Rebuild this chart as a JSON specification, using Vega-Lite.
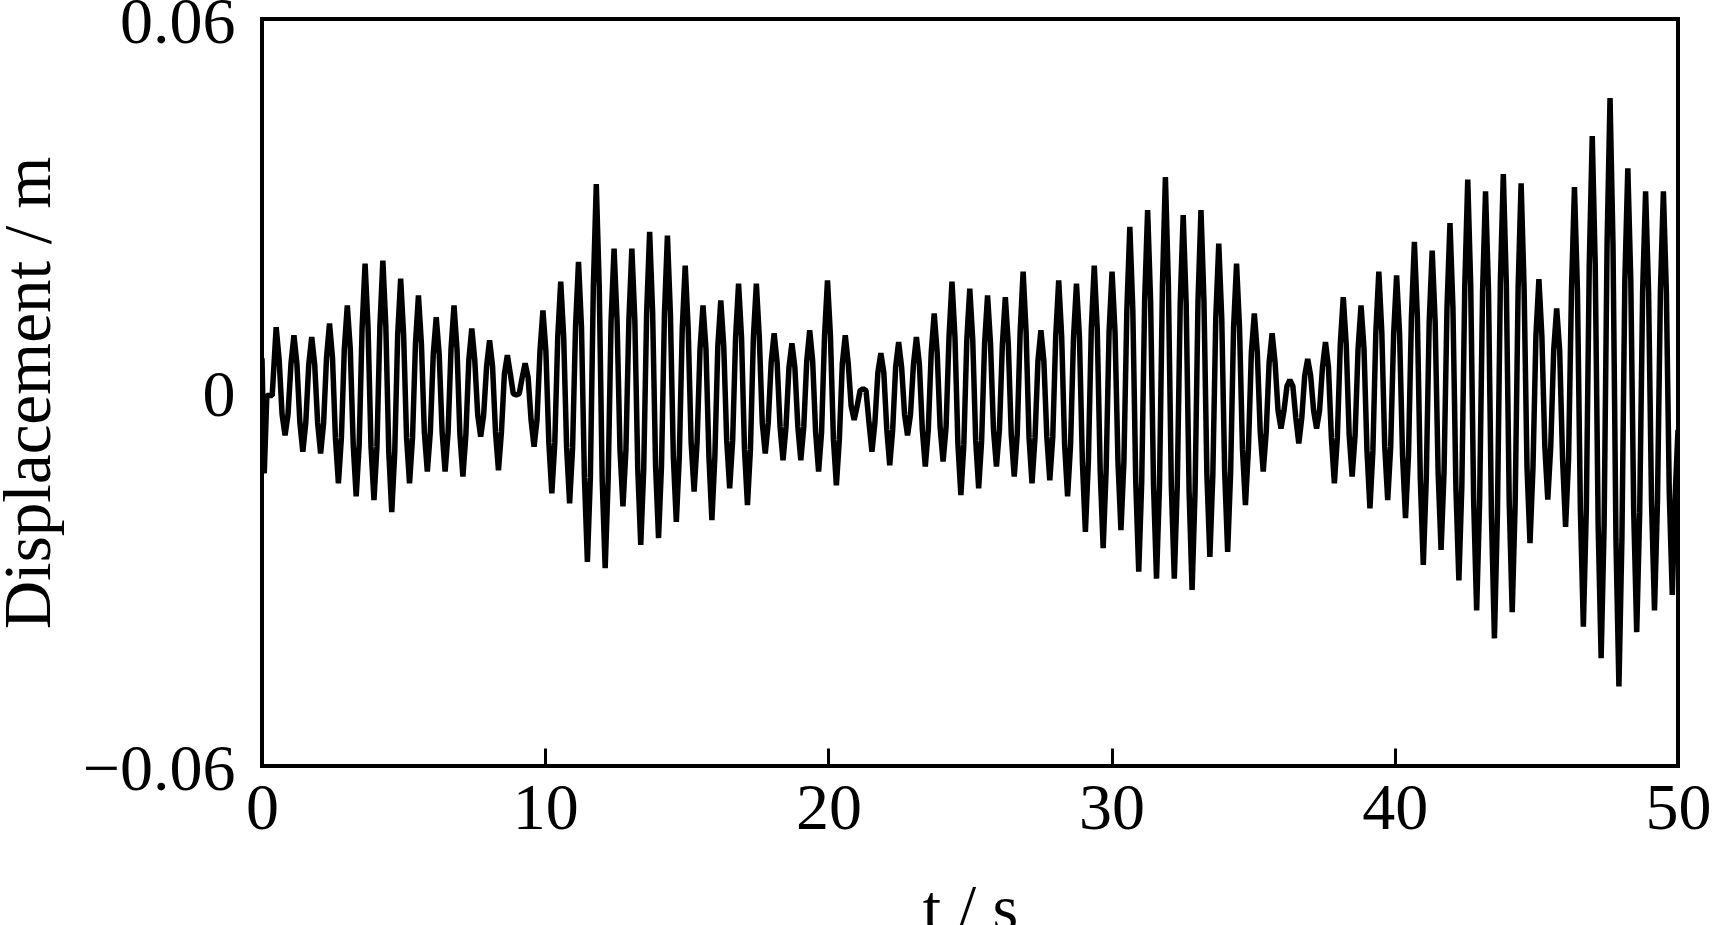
{
"$schema": "https://vega.github.io/schema/vega-lite/v6.json",
"width": 1416, "height": 747,
"autosize": {"type": "none"},
"padding": {"left": 262, "top": 19, "right": 37, "bottom": 159},
"background": "white",
"config": {"view": {"stroke": "black", "strokeWidth": 4}, "font": "Liberation Serif"},
"data": {"values": [
{"t":0,"y":0.0055},{"t":0.08,"y":-0.013},{"t":0.17,"y":-0.0005},{"t":0.36,"y":-0.0005},
{"t":0.5,"y":0.0105},{"t":0.605,"y":0.0053},{"t":0.709,"y":-0.0035},{"t":0.814,"y":-0.0069},{"t":0.919,"y":-0.0035},{"t":1.023,"y":0.0046},
{"t":1.128,"y":0.0092},{"t":1.233,"y":0.0046},{"t":1.337,"y":-0.0048},{"t":1.442,"y":-0.0095},{"t":1.547,"y":-0.0048},{"t":1.651,"y":0.0045},
{"t":1.756,"y":0.0089},{"t":1.861,"y":0.0045},{"t":1.965,"y":-0.0049},{"t":2.07,"y":-0.0098},{"t":2.175,"y":-0.0049},{"t":2.279,"y":0.0056},
{"t":2.384,"y":0.0111},{"t":2.489,"y":0.0056},{"t":2.593,"y":-0.0073},{"t":2.698,"y":-0.0146},{"t":2.803,"y":-0.0073},{"t":2.907,"y":0.007},
{"t":3.012,"y":0.014},{"t":3.117,"y":0.007},{"t":3.221,"y":-0.0084},{"t":3.326,"y":-0.0167},{"t":3.431,"y":-0.0084},{"t":3.535,"y":0.0104},
{"t":3.64,"y":0.0207},{"t":3.745,"y":0.0104},{"t":3.849,"y":-0.0087},{"t":3.954,"y":-0.0173},{"t":4.059,"y":-0.0087},{"t":4.163,"y":0.0106},
{"t":4.268,"y":0.0212},{"t":4.373,"y":0.0106},{"t":4.477,"y":-0.0096},{"t":4.582,"y":-0.0192},{"t":4.687,"y":-0.0096},{"t":4.791,"y":0.0092},
{"t":4.896,"y":0.0183},{"t":5.001,"y":0.0092},{"t":5.105,"y":-0.0073},{"t":5.21,"y":-0.0146},{"t":5.315,"y":-0.0073},{"t":5.419,"y":0.0078},
{"t":5.524,"y":0.0156},{"t":5.629,"y":0.0078},{"t":5.733,"y":-0.0064},{"t":5.838,"y":-0.0127},{"t":5.943,"y":-0.0064},{"t":6.047,"y":0.0061},
{"t":6.152,"y":0.0121},{"t":6.257,"y":0.0061},{"t":6.361,"y":-0.0064},{"t":6.466,"y":-0.0127},{"t":6.571,"y":-0.0064},{"t":6.675,"y":0.007},
{"t":6.78,"y":0.014},{"t":6.885,"y":0.007},{"t":6.989,"y":-0.0068},{"t":7.094,"y":-0.0135},{"t":7.199,"y":-0.0068},{"t":7.303,"y":0.0052},
{"t":7.408,"y":0.0103},{"t":7.513,"y":0.0052},{"t":7.617,"y":-0.0036},{"t":7.722,"y":-0.0071},{"t":7.827,"y":-0.0036},{"t":7.931,"y":0.0042},
{"t":8.036,"y":0.0084},{"t":8.141,"y":0.0042},{"t":8.245,"y":-0.0063},{"t":8.35,"y":-0.0125},{"t":8.455,"y":-0.0063},{"t":8.559,"y":0.003},
{"t":8.664,"y":0.006},{"t":8.769,"y":0.003},{"t":8.873,"y":-0.0002},{"t":8.978,"y":-0.0004},{"t":9.083,"y":-0.0002},{"t":9.187,"y":0.0024},
{"t":9.292,"y":0.0047},{"t":9.397,"y":0.0024},{"t":9.501,"y":-0.0044},{"t":9.606,"y":-0.0087},{"t":9.711,"y":-0.0044},{"t":9.815,"y":0.0066},
{"t":9.92,"y":0.0132},{"t":10.025,"y":0.0066},{"t":10.129,"y":-0.0081},{"t":10.234,"y":-0.0162},{"t":10.339,"y":-0.0081},{"t":10.443,"y":0.0089},
{"t":10.548,"y":0.0178},{"t":10.653,"y":0.0089},{"t":10.757,"y":-0.0089},{"t":10.862,"y":-0.0178},{"t":10.967,"y":-0.0089},{"t":11.071,"y":0.0105},
{"t":11.176,"y":0.021},{"t":11.281,"y":0.0105},{"t":11.385,"y":-0.0136},{"t":11.49,"y":-0.0272},{"t":11.595,"y":-0.0136},{"t":11.699,"y":0.0168},
{"t":11.804,"y":0.0335},{"t":11.909,"y":0.0168},{"t":12.013,"y":-0.0141},{"t":12.118,"y":-0.0282},{"t":12.223,"y":-0.0141},{"t":12.327,"y":0.0116},
{"t":12.432,"y":0.0231},{"t":12.537,"y":0.0116},{"t":12.641,"y":-0.0092},{"t":12.746,"y":-0.0183},{"t":12.851,"y":-0.0092},{"t":12.955,"y":0.0116},
{"t":13.06,"y":0.0231},{"t":13.165,"y":0.0116},{"t":13.269,"y":-0.0123},{"t":13.374,"y":-0.0245},{"t":13.479,"y":-0.0123},{"t":13.583,"y":0.0129},
{"t":13.688,"y":0.0258},{"t":13.793,"y":0.0129},{"t":13.897,"y":-0.0117},{"t":14.002,"y":-0.0234},{"t":14.107,"y":-0.0117},{"t":14.211,"y":0.0126},
{"t":14.316,"y":0.0252},{"t":14.421,"y":0.0126},{"t":14.525,"y":-0.0104},{"t":14.63,"y":-0.0208},{"t":14.735,"y":-0.0104},{"t":14.839,"y":0.0102},
{"t":14.944,"y":0.0204},{"t":15.049,"y":0.0102},{"t":15.153,"y":-0.008},{"t":15.258,"y":-0.0159},{"t":15.363,"y":-0.008},{"t":15.467,"y":0.007},
{"t":15.572,"y":0.014},{"t":15.677,"y":0.007},{"t":15.781,"y":-0.0103},{"t":15.886,"y":-0.0205},{"t":15.991,"y":-0.0103},{"t":16.095,"y":0.0074},
{"t":16.2,"y":0.0148},{"t":16.305,"y":0.0074},{"t":16.409,"y":-0.0077},{"t":16.514,"y":-0.0154},{"t":16.619,"y":-0.0077},{"t":16.723,"y":0.0088},
{"t":16.828,"y":0.0175},{"t":16.933,"y":0.0088},{"t":17.037,"y":-0.0091},{"t":17.142,"y":-0.0181},{"t":17.247,"y":-0.0091},{"t":17.351,"y":0.0088},
{"t":17.456,"y":0.0175},{"t":17.561,"y":0.0088},{"t":17.665,"y":-0.0049},{"t":17.77,"y":-0.0098},{"t":17.875,"y":-0.0049},{"t":17.979,"y":0.0048},
{"t":18.084,"y":0.0095},{"t":18.189,"y":0.0048},{"t":18.293,"y":-0.0055},{"t":18.398,"y":-0.0109},{"t":18.503,"y":-0.0055},{"t":18.607,"y":0.004},
{"t":18.712,"y":0.0079},{"t":18.817,"y":0.004},{"t":18.921,"y":-0.0055},{"t":19.026,"y":-0.0109},{"t":19.131,"y":-0.0055},{"t":19.235,"y":0.005},
{"t":19.34,"y":0.01},{"t":19.445,"y":0.005},{"t":19.549,"y":-0.0064},{"t":19.654,"y":-0.0127},{"t":19.759,"y":-0.0064},{"t":19.863,"y":0.009},
{"t":19.968,"y":0.018},{"t":20.073,"y":0.009},{"t":20.177,"y":-0.0075},{"t":20.282,"y":-0.0149},{"t":20.387,"y":-0.0075},{"t":20.491,"y":0.0046},
{"t":20.596,"y":0.0092},{"t":20.701,"y":0.0046},{"t":20.805,"y":-0.0022},{"t":20.91,"y":-0.0044},{"t":21.015,"y":-0.0022},{"t":21.119,"y":0.0003},
{"t":21.224,"y":0.0006},{"t":21.329,"y":0.0003},{"t":21.433,"y":-0.0048},{"t":21.538,"y":-0.0095},{"t":21.643,"y":-0.0048},{"t":21.747,"y":0.0032},
{"t":21.852,"y":0.0063},{"t":21.957,"y":0.0032},{"t":22.061,"y":-0.0059},{"t":22.166,"y":-0.0117},{"t":22.271,"y":-0.0059},{"t":22.375,"y":0.0041},
{"t":22.48,"y":0.0081},{"t":22.585,"y":0.0041},{"t":22.689,"y":-0.0035},{"t":22.794,"y":-0.0069},{"t":22.899,"y":-0.0035},{"t":23.003,"y":0.0045},
{"t":23.108,"y":0.0089},{"t":23.213,"y":0.0045},{"t":23.317,"y":-0.006},{"t":23.422,"y":-0.0119},{"t":23.527,"y":-0.006},{"t":23.631,"y":0.0064},
{"t":23.736,"y":0.0127},{"t":23.841,"y":0.0064},{"t":23.945,"y":-0.0056},{"t":24.05,"y":-0.0111},{"t":24.155,"y":-0.0056},{"t":24.259,"y":0.0089},
{"t":24.364,"y":0.0178},{"t":24.469,"y":0.0089},{"t":24.573,"y":-0.0083},{"t":24.678,"y":-0.0165},{"t":24.783,"y":-0.0083},{"t":24.887,"y":0.0084},
{"t":24.992,"y":0.0167},{"t":25.097,"y":0.0084},{"t":25.201,"y":-0.0077},{"t":25.306,"y":-0.0154},{"t":25.411,"y":-0.0077},{"t":25.515,"y":0.0078},
{"t":25.62,"y":0.0156},{"t":25.725,"y":0.0078},{"t":25.829,"y":-0.006},{"t":25.934,"y":-0.0119},{"t":26.039,"y":-0.006},{"t":26.143,"y":0.0077},
{"t":26.248,"y":0.0153},{"t":26.353,"y":0.0077},{"t":26.457,"y":-0.0068},{"t":26.562,"y":-0.0135},{"t":26.667,"y":-0.0068},{"t":26.771,"y":0.0097},
{"t":26.876,"y":0.0194},{"t":26.981,"y":0.0097},{"t":27.085,"y":-0.0073},{"t":27.19,"y":-0.0146},{"t":27.295,"y":-0.0073},{"t":27.399,"y":0.005},
{"t":27.504,"y":0.01},{"t":27.609,"y":0.005},{"t":27.713,"y":-0.0071},{"t":27.818,"y":-0.0141},{"t":27.923,"y":-0.0071},{"t":28.027,"y":0.009},
{"t":28.132,"y":0.018},{"t":28.237,"y":0.009},{"t":28.341,"y":-0.0084},{"t":28.446,"y":-0.0167},{"t":28.551,"y":-0.0084},{"t":28.655,"y":0.0088},
{"t":28.76,"y":0.0175},{"t":28.865,"y":0.0088},{"t":28.969,"y":-0.0112},{"t":29.074,"y":-0.0224},{"t":29.179,"y":-0.0112},{"t":29.283,"y":0.0102},
{"t":29.388,"y":0.0204},{"t":29.493,"y":0.0102},{"t":29.597,"y":-0.0125},{"t":29.702,"y":-0.025},{"t":29.807,"y":-0.0125},{"t":29.911,"y":0.0097},
{"t":30.016,"y":0.0194},{"t":30.121,"y":0.0097},{"t":30.225,"y":-0.0111},{"t":30.33,"y":-0.0221},{"t":30.435,"y":-0.0111},{"t":30.539,"y":0.0133},
{"t":30.644,"y":0.0266},{"t":30.749,"y":0.0133},{"t":30.853,"y":-0.0144},{"t":30.958,"y":-0.0288},{"t":31.063,"y":-0.0144},{"t":31.167,"y":0.0147},
{"t":31.272,"y":0.0293},{"t":31.377,"y":0.0147},{"t":31.481,"y":-0.015},{"t":31.586,"y":-0.0299},{"t":31.691,"y":-0.015},{"t":31.795,"y":0.0173},
{"t":31.9,"y":0.0346},{"t":32.005,"y":0.0173},{"t":32.109,"y":-0.015},{"t":32.214,"y":-0.0299},{"t":32.319,"y":-0.015},{"t":32.423,"y":0.0143},
{"t":32.528,"y":0.0285},{"t":32.633,"y":0.0143},{"t":32.737,"y":-0.0159},{"t":32.842,"y":-0.0317},{"t":32.947,"y":-0.0159},{"t":33.051,"y":0.0147},
{"t":33.156,"y":0.0293},{"t":33.261,"y":0.0147},{"t":33.365,"y":-0.0132},{"t":33.47,"y":-0.0264},{"t":33.575,"y":-0.0132},{"t":33.679,"y":0.012},
{"t":33.784,"y":0.0239},{"t":33.889,"y":0.012},{"t":33.993,"y":-0.0128},{"t":34.098,"y":-0.0256},{"t":34.203,"y":-0.0128},{"t":34.307,"y":0.0104},
{"t":34.412,"y":0.0207},{"t":34.517,"y":0.0104},{"t":34.621,"y":-0.0091},{"t":34.726,"y":-0.0181},{"t":34.831,"y":-0.0091},{"t":34.935,"y":0.0064},
{"t":35.04,"y":0.0127},{"t":35.145,"y":0.0064},{"t":35.249,"y":-0.0064},{"t":35.354,"y":-0.0127},{"t":35.459,"y":-0.0064},{"t":35.563,"y":0.0048},
{"t":35.668,"y":0.0095},{"t":35.773,"y":0.0048},{"t":35.877,"y":-0.0029},{"t":35.982,"y":-0.0058},{"t":36.087,"y":-0.0029},{"t":36.191,"y":0.001},
{"t":36.296,"y":0.002},{"t":36.401,"y":0.001},{"t":36.505,"y":-0.0041},{"t":36.61,"y":-0.0082},{"t":36.715,"y":-0.0041},{"t":36.819,"y":0.0027},
{"t":36.924,"y":0.0054},{"t":37.029,"y":0.0027},{"t":37.133,"y":-0.0029},{"t":37.238,"y":-0.0058},{"t":37.343,"y":-0.0029},{"t":37.447,"y":0.0041},
{"t":37.552,"y":0.0081},{"t":37.657,"y":0.0041},{"t":37.761,"y":-0.0073},{"t":37.866,"y":-0.0146},{"t":37.971,"y":-0.0073},{"t":38.075,"y":0.0077},
{"t":38.18,"y":0.0153},{"t":38.285,"y":0.0077},{"t":38.389,"y":-0.0068},{"t":38.494,"y":-0.0135},{"t":38.599,"y":-0.0068},{"t":38.703,"y":0.007},
{"t":38.808,"y":0.014},{"t":38.913,"y":0.007},{"t":39.017,"y":-0.0093},{"t":39.122,"y":-0.0186},{"t":39.227,"y":-0.0093},{"t":39.331,"y":0.0097},
{"t":39.436,"y":0.0194},{"t":39.541,"y":0.0097},{"t":39.645,"y":-0.0087},{"t":39.75,"y":-0.0173},{"t":39.855,"y":-0.0087},{"t":39.959,"y":0.0094},
{"t":40.064,"y":0.0188},{"t":40.169,"y":0.0094},{"t":40.273,"y":-0.0101},{"t":40.378,"y":-0.0202},{"t":40.483,"y":-0.0101},{"t":40.587,"y":0.0121},
{"t":40.692,"y":0.0242},{"t":40.797,"y":0.0121},{"t":40.901,"y":-0.0139},{"t":41.006,"y":-0.0277},{"t":41.111,"y":-0.0139},{"t":41.215,"y":0.0114},
{"t":41.32,"y":0.0228},{"t":41.425,"y":0.0114},{"t":41.529,"y":-0.0127},{"t":41.634,"y":-0.0253},{"t":41.739,"y":-0.0127},{"t":41.843,"y":0.0136},
{"t":41.948,"y":0.0272},{"t":42.053,"y":0.0136},{"t":42.157,"y":-0.0151},{"t":42.262,"y":-0.0302},{"t":42.367,"y":-0.0151},{"t":42.471,"y":0.0171},
{"t":42.576,"y":0.0342},{"t":42.681,"y":0.0171},{"t":42.785,"y":-0.0175},{"t":42.89,"y":-0.035},{"t":42.995,"y":-0.0175},{"t":43.099,"y":0.0162},
{"t":43.204,"y":0.0323},{"t":43.309,"y":0.0162},{"t":43.413,"y":-0.0198},{"t":43.518,"y":-0.0395},{"t":43.623,"y":-0.0198},{"t":43.727,"y":0.0176},
{"t":43.832,"y":0.0351},{"t":43.937,"y":0.0176},{"t":44.041,"y":-0.0177},{"t":44.146,"y":-0.0353},{"t":44.251,"y":-0.0177},{"t":44.355,"y":0.0168},
{"t":44.46,"y":0.0336},{"t":44.565,"y":0.0168},{"t":44.669,"y":-0.0121},{"t":44.774,"y":-0.0242},{"t":44.879,"y":-0.0121},{"t":44.983,"y":0.0091},
{"t":45.088,"y":0.0182},{"t":45.193,"y":0.0091},{"t":45.297,"y":-0.0086},{"t":45.402,"y":-0.0172},{"t":45.507,"y":-0.0086},{"t":45.611,"y":0.0068},
{"t":45.716,"y":0.0135},{"t":45.821,"y":0.0068},{"t":45.925,"y":-0.0108},{"t":46.03,"y":-0.0216},{"t":46.135,"y":-0.0108},{"t":46.239,"y":0.0165},
{"t":46.344,"y":0.033},{"t":46.449,"y":0.0165},{"t":46.553,"y":-0.0188},{"t":46.658,"y":-0.0376},{"t":46.763,"y":-0.0188},{"t":46.867,"y":0.0206},
{"t":46.972,"y":0.0412},{"t":47.077,"y":0.0206},{"t":47.181,"y":-0.0214},{"t":47.286,"y":-0.0427},{"t":47.391,"y":-0.0214},{"t":47.495,"y":0.0237},
{"t":47.6,"y":0.0473},{"t":47.705,"y":0.0237},{"t":47.809,"y":-0.0236},{"t":47.914,"y":-0.0472},{"t":48.019,"y":-0.0236},{"t":48.123,"y":0.018},
{"t":48.228,"y":0.036},{"t":48.333,"y":0.018},{"t":48.437,"y":-0.0193},{"t":48.542,"y":-0.0385},{"t":48.647,"y":-0.0193},{"t":48.751,"y":0.0162},
{"t":48.856,"y":0.0323},{"t":48.961,"y":0.0162},{"t":49.065,"y":-0.0175},{"t":49.17,"y":-0.035},{"t":49.275,"y":-0.0175},{"t":49.379,"y":0.0162},
{"t":49.484,"y":0.0323},{"t":49.589,"y":0.0162},{"t":49.693,"y":-0.0163},{"t":49.798,"y":-0.0325},{"t":49.903,"y":-0.0163},{"t":50,"y":-0.006}
]},
"mark": {"type": "line", "color": "black", "strokeWidth": 5.5, "strokeJoin": "bevel", "clip": true},
"encoding": {
"x": {"field": "t", "type": "quantitative", "scale": {"domain": [0, 50], "nice": false, "zero": false},
 "axis": {"values": [0, 10, 20, 30, 40, 50], "title": "t / s", "grid": false, "domain": false,
  "tickSize": -18, "tickWidth": 3, "tickColor": "black", "labelPadding": 28,
  "labelFont": "Liberation Serif", "labelFontSize": 66, "labelColor": "black", "labelFlush": false,
  "titleFont": "Liberation Serif", "titleFontSize": 66, "titleFontWeight": "normal", "titleColor": "black", "titlePadding": 36}},
"y": {"field": "y", "type": "quantitative", "scale": {"domain": [-0.06, 0.06], "nice": false, "zero": false},
 "axis": {"values": [-0.06, 0, 0.06], "format": "~g", "title": "Displacement / m", "grid": false, "domain": false, "ticks": false,
  "labelPadding": 27, "labelOffset": 3, "labelFont": "Liberation Serif", "labelFontSize": 66, "labelColor": "black",
  "titleFont": "Liberation Serif", "titleFontSize": 67, "titleFontWeight": "normal", "titleColor": "black", "titlePadding": 19}}
}
}
